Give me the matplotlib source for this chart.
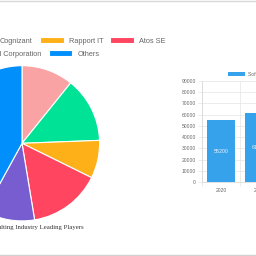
import matplotlib
matplotlib.use("Agg")
import matplotlib.pyplot as plt
from matplotlib.lines import Line2D

plt.rcParams['font.family'] = ['Liberation Sans', 'DejaVu Sans']

# pie data (share of market, %)
players = ["Infosys Limited", "Cognizant", "Rapport IT", "Atos SE", "IBM Corporation", "Others"]
shares = [10.8, 13.6, 7.9, 15.1, 10.6, 42.0]
pie_colors = ["#f9a3a4", "#00e396", "#feb019", "#ff4560", "#775dd0", "#008ffb"]

# bar data
years = ["2020", "2021"]
market = [55200, 61500]
bar_label = "Software Market Size"
yticks = list(range(0, 90001, 10000))

BLUE = "#36a2eb"
GRID = "#e5e5e5"
TXT = "#666666"

W = H = 256
fig = plt.figure(figsize=(2.56, 2.56), dpi=100)


def box(x0, y0, x1, y1):
    # pixel box (top-left origin) -> figure coords
    return [x0 / W, 1 - y1 / H, (x1 - x0) / W, (y1 - y0) / H]


# page separators
fig.add_artist(Line2D([0, 1], [1 - 0.5 / H] * 2, color="#d9d9d9", lw=1))
fig.add_artist(Line2D([0, 1], [1 - 255 / H] * 2, color="#d0d0d0", lw=1))

# ---- pie ----
cx, cy, r = 22, 143.3, 77.6
ax_pie = fig.add_axes(box(cx - r, cy - r, cx + r, cy + r))
wedges, _ = ax_pie.pie(shares, colors=pie_colors, startangle=90, counterclock=False,
                       radius=1, wedgeprops=dict(edgecolor="white", linewidth=0.8))
for w in wedges:
    w.set_clip_on(False)
ax_pie.set_xlim(-1, 1)
ax_pie.set_ylim(-1, 1)
ax_pie.set_aspect("equal")
ax_pie.axis("off")

leg_kw = dict(frameon=False, fontsize=5.35, labelcolor=TXT, borderpad=0, borderaxespad=0,
              handlelength=3.2, handleheight=0.85, handletextpad=0.68, columnspacing=0.95)
fig.legend(wedges[:4], players[:4], ncol=4, loc="center right",
           bbox_to_anchor=(165.5 / W, 1 - 41 / H), **leg_kw)
fig.legend(wedges[4:], players[4:], ncol=2, loc="center right",
           bbox_to_anchor=(99.5 / W, 1 - 54 / H), **leg_kw)

fig.text(84 / W, 1 - 227 / H, "IT Consulting Industry Leading Players", ha="right", va="center",
         fontsize=4.9, color="#333333", family="Liberation Serif")

# ---- bars ----
ax_bar = fig.add_axes(box(202, 81, 278, 182))
bars = ax_bar.bar(range(len(years)), market, width=0.72, color=BLUE, label=bar_label, zorder=2)
for b, v in zip(bars, market):
    ax_bar.text(b.get_x() + b.get_width() / 2, v / 2, str(v), ha="center", va="center",
                fontsize=3.8, color="#eaf4ff", zorder=3)
ax_bar.set_xlim(-0.5, len(years) - 0.5)
ax_bar.set_ylim(0, 90000)
ax_bar.set_yticks(yticks)
ax_bar.set_yticklabels([str(t) for t in yticks])
ax_bar.set_xticks(range(len(years)))
ax_bar.set_xticklabels(years)
ax_bar.set_xticks([i - 0.5 for i in range(len(years) + 1)], minor=True)
ax_bar.tick_params(axis="y", length=3, width=0.5, color=GRID, labelsize=3.6, labelcolor=TXT, pad=1.5)
ax_bar.tick_params(axis="x", which="major", length=0, labelsize=3.6, labelcolor=TXT, pad=4)
ax_bar.tick_params(axis="x", which="minor", length=3, width=0.5, color=GRID)
ax_bar.grid(axis="y", color=GRID, lw=0.5, zorder=0)
ax_bar.grid(axis="x", which="minor", color=GRID, lw=0.5, zorder=0)
for s in ["top", "right"]:
    ax_bar.spines[s].set_visible(False)
for s in ["left", "bottom"]:
    ax_bar.spines[s].set_color("#d6d6d6")
    ax_bar.spines[s].set_linewidth(0.5)
ax_bar.legend(loc="center left", bbox_to_anchor=(228 / W, 1 - 74 / H), bbox_transform=fig.transFigure,
              frameon=False, fontsize=3.6, labelcolor=TXT, borderpad=0, borderaxespad=0,
              handlelength=3.4, handleheight=0.9, handletextpad=0.6)

fig.savefig("out.png", dpi=100)
